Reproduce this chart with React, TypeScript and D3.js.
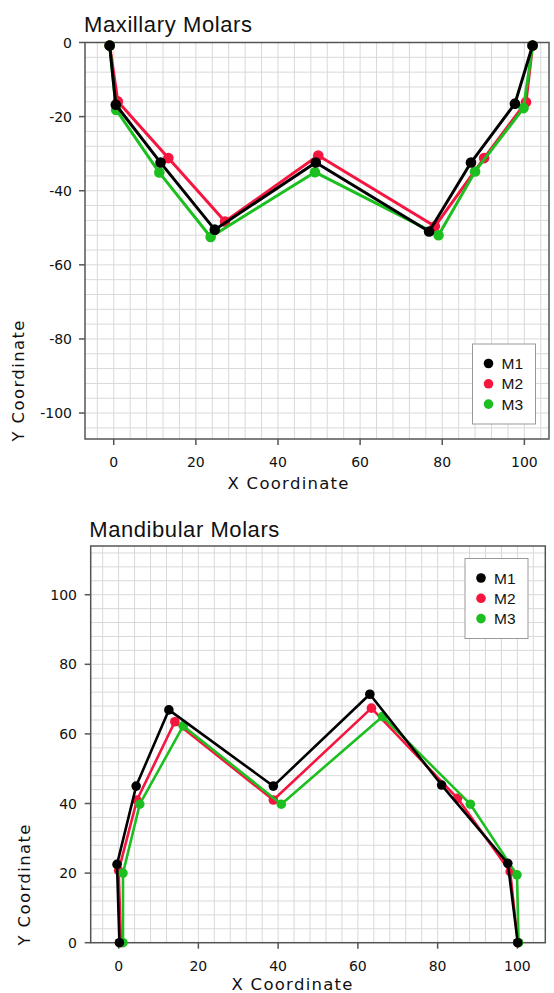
import React from "react";
import * as d3 from "d3";

// ---- Data ----
const seriesNames = ["M1", "M2", "M3"];
const seriesColors = ["#000000", "#f5153f", "#1cbf1f"];

const maxX_M1 = [-1, 0.5, 11.4, 24.6, 49.2, 76.8, 87, 97.7, 102];
const maxY_M1 = [-0.8, -16.8, -32.4, -50.5, -32.4, -51, -32.4, -16.5, -0.8];
const maxX_M2 = [-1, 1, 13.3, 27.1, 49.8, 78.2, 90.2, 100.4, 102];
const maxY_M2 = [-0.8, -15.9, -31.2, -48.3, -30.5, -49.6, -31.2, -16.1, -0.8];
const maxX_M3 = [-1, 0.6, 11.1, 23.6, 49, 79.1, 88, 99.8, 102];
const maxY_M3 = [-0.8, -18.2, -35.1, -52.5, -35, -52, -34.8, -17.7, -0.8];

const mandX_M1 = [0.2, -0.4, 4.4, 12.6, 38.8, 63, 81, 97.6, 100.1];
const mandY_M1 = [0, 22.5, 45, 66.9, 45, 71.4, 45.3, 22.8, 0];
const mandX_M2 = [0.6, 0, 4.6, 14.1, 38.8, 63.4, 85, 98.2, 100.1];
const mandY_M2 = [0, 20.7, 41, 63.5, 41, 67.4, 41.5, 20.4, 0];
const mandX_M3 = [1.1, 1.1, 5.3, 16.2, 40.8, 66.2, 88.2, 99.9, 100.3];
const mandY_M3 = [0, 20, 39.8, 62.3, 39.8, 65, 39.8, 19.5, 0];

const xTicks = [0, 20, 40, 60, 80, 100];
const maxYTicks = [0, -20, -40, -60, -80, -100];
const mandYTicks = [0, 20, 40, 60, 80, 100];

const TICK_FONT = "'DejaVu Sans', sans-serif";
const TITLE_FONT = "'Liberation Sans', Arial, sans-serif";

type PanelProps = {
  title: string;
  left: number; right: number; top: number; bottom: number;
  xDomain: [number, number]; yDomain: [number, number];
  yTicks: number[];
  xs: number[][]; ys: number[][];
  r: number; lw: number;
  titlePos: [number, number]; titleLen: number;
  xLabelPos: [number, number];
  yLabelPos: [number, number];
  legendBox: [number, number];
  xTickBaseline: number;
  yTickRight: number;
};

function Panel(p: PanelProps) {
  const x = d3.scaleLinear().domain(p.xDomain).range([p.left, p.right]);
  const y = d3.scaleLinear().domain(p.yDomain).range([p.bottom, p.top]);
  const gx = d3.range(Math.ceil(p.xDomain[0] / 4) * 4, p.xDomain[1] + 0.001, 4);
  const gy = d3.range(Math.ceil(p.yDomain[0] / 4) * 4, p.yDomain[1] + 0.001, 4);
  const line = d3.line<[number, number]>().x((d) => x(d[0])).y((d) => y(d[1]));
  const order = [1, 2, 0];
  const [lx, ly] = p.legendBox;
  return (
    <g>
      <text x={p.titlePos[0]} y={p.titlePos[1]} fontFamily={TITLE_FONT} fontSize={22}
        textLength={p.titleLen} lengthAdjust="spacing" fill="#111">{p.title}</text>
      <rect x={p.left} y={p.top} width={p.right - p.left} height={p.bottom - p.top} fill="#fff" />
      {gx.map((v) => (
        <line key={"gx" + v} x1={x(v)} x2={x(v)} y1={p.top} y2={p.bottom} stroke="#d9d9d9" strokeWidth={1} />
      ))}
      {gy.map((v) => (
        <line key={"gy" + v} y1={y(v)} y2={y(v)} x1={p.left} x2={p.right} stroke="#d9d9d9" strokeWidth={1} />
      ))}
      <rect x={p.left} y={p.top} width={p.right - p.left} height={p.bottom - p.top} fill="none" stroke="#555" strokeWidth={1.5} />
      {xTicks.map((v) => (
        <g key={"xt" + v}>
          <line x1={x(v)} x2={x(v)} y1={p.bottom} y2={p.bottom + 6} stroke="#555" strokeWidth={1.5} />
          <text x={x(v)} y={p.xTickBaseline} textAnchor="middle" fontFamily={TICK_FONT} fontSize={14} fill="#111">{v}</text>
        </g>
      ))}
      {p.yTicks.map((v) => (
        <g key={"yt" + v}>
          <line x1={p.left - 6} x2={p.left} y1={y(v)} y2={y(v)} stroke="#555" strokeWidth={1.5} />
          <text x={p.yTickRight} y={y(v)} dy="0.36em" textAnchor="end" fontFamily={TICK_FONT} fontSize={14} fill="#111">{v}</text>
        </g>
      ))}
      {order.map((si) => {
        const pts: [number, number][] = p.xs[si].map((xv, i) => [xv, p.ys[si][i]]);
        return (
          <g key={"s" + si}>
            <path d={line(pts) || ""} fill="none" stroke={seriesColors[si]} strokeWidth={p.lw} strokeLinejoin="round" />
            {pts.map((d, i) => (
              <circle key={i} cx={x(d[0])} cy={y(d[1])} r={p.r} fill={seriesColors[si]} />
            ))}
          </g>
        );
      })}
      <text x={p.xLabelPos[0]} y={p.xLabelPos[1]} textAnchor="middle" fontFamily={TICK_FONT} fontSize={16.5}
        textLength={121} lengthAdjust="spacing" fill="#111">X Coordinate</text>
      <text transform={`translate(${p.yLabelPos[0]},${p.yLabelPos[1]}) rotate(-90)`} textAnchor="middle"
        fontFamily={TICK_FONT} fontSize={16.5} textLength={121} lengthAdjust="spacing" fill="#111">Y Coordinate</text>
      <rect x={lx} y={ly} width={63} height={80} fill="#fff" stroke="#999" strokeWidth={1} />
      {seriesNames.map((n, i) => (
        <g key={n}>
          <circle cx={lx + 16} cy={ly + 19.5 + i * 20.3} r={4.8} fill={seriesColors[i]} />
          <text x={lx + 29} y={ly + 25 + i * 20.3} fontFamily={TITLE_FONT} fontSize={15.5} fill="#111">{n}</text>
        </g>
      ))}
    </g>
  );
}

export default function App() {
  return (
    <svg width={554} height={993} style={{ display: "block", position: "absolute", left: 0, top: 0 }}>
      <rect width={554} height={993} fill="#fff" />
      <Panel
        title="Maxillary Molars"
        left={85} right={549} top={42.5} bottom={439}
        xDomain={[-7, 106]} yDomain={[-107, 0]}
        yTicks={maxYTicks}
        xs={[maxX_M1, maxX_M2, maxX_M3]} ys={[maxY_M1, maxY_M2, maxY_M3]}
        r={5.3} lw={3}
        titlePos={[84, 31.5]} titleLen={168}
        xLabelPos={[288, 489.3]}
        yLabelPos={[24, 381]}
        legendBox={[472.5, 344]}
        xTickBaseline={466.5}
        yTickRight={72}
      />
      <Panel
        title="Mandibular Molars"
        left={90.7} right={545.3} top={546} bottom={942.7}
        xDomain={[-7, 107]} yDomain={[0, 114]}
        yTicks={mandYTicks}
        xs={[mandX_M1, mandX_M2, mandX_M3]} ys={[mandY_M1, mandY_M2, mandY_M3]}
        r={4.8} lw={2.6}
        titlePos={[89.3, 536.6]} titleLen={190}
        xLabelPos={[292, 989.5]}
        yLabelPos={[29.5, 885]}
        legendBox={[465, 558.5]}
        xTickBaseline={970.7}
        yTickRight={77}
      />
    </svg>
  );
}
